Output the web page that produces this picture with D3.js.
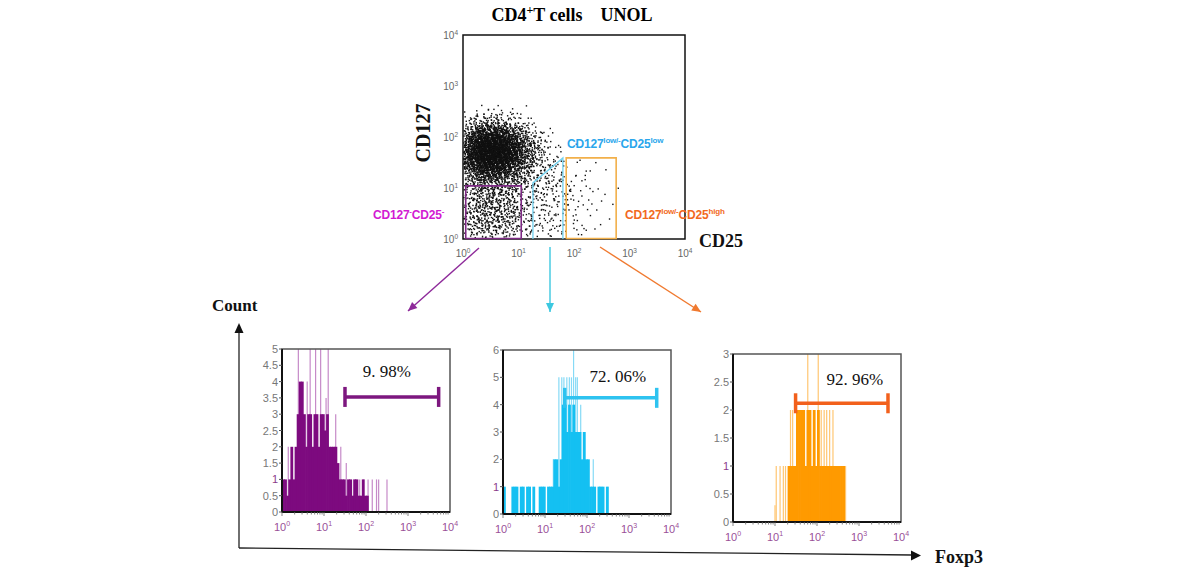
<!DOCTYPE html>
<html><head><meta charset="utf-8">
<script src="https://cdn.jsdelivr.net/npm/d3@7"></script>
<style>body{margin:0;background:#fff}svg{display:block}</style>
</head><body>
<svg id="c" width="1200" height="572"></svg>
<script>
// ---------------- DATA ----------------
const scatterDecades = [0, 1, 2, 3, 4];
// density of CD4+ events: columns = log10(CD25) cell centres, rows = log10(CD127) cell centres
const densityColCentres = [0.1, 0.3, 0.5, 0.7, 0.9, 1.1, 1.3, 1.5, 1.7, 1.9, 2.1, 2.3, 2.5, 2.7, 2.9];
const densityRowCentres = [2.5, 2.3, 2.1, 1.9, 1.7, 1.5, 1.3, 1.1, 0.9, 0.7, 0.5, 0.3, 0.1];
const densityCounts = [
  [2, 4, 5, 4, 3, 1, 0, 0, 0, 0, 0, 0, 0, 0, 0],
  [12, 25, 30, 25, 15, 7, 2, 0, 0, 0, 0, 0, 0, 0, 0],
  [45, 100, 125, 105, 65, 32, 10, 2, 0, 0, 0, 0, 0, 0, 0],
  [95, 210, 250, 215, 140, 65, 24, 7, 2, 0, 0, 0, 0, 0, 0],
  [110, 250, 290, 250, 165, 80, 30, 11, 4, 1, 1, 0, 0, 0, 0],
  [90, 210, 250, 210, 135, 65, 27, 12, 6, 2, 1, 1, 0, 0, 0],
  [45, 95, 115, 95, 65, 38, 18, 12, 8, 3, 2, 1, 1, 0, 0],
  [24, 40, 46, 42, 32, 21, 14, 12, 10, 4, 3, 2, 1, 0, 0],
  [21, 32, 37, 34, 25, 16, 11, 11, 10, 5, 3, 2, 1, 1, 0],
  [21, 32, 37, 34, 25, 15, 10, 10, 9, 5, 3, 2, 1, 1, 0],
  [21, 32, 35, 32, 23, 13, 9, 9, 8, 5, 3, 2, 1, 1, 0],
  [19, 28, 31, 28, 21, 11, 8, 8, 7, 4, 3, 2, 1, 0, 0],
  [12, 17, 18, 16, 12, 7, 5, 5, 4, 3, 2, 1, 1, 0, 0]
];
// gates on the dot plot (CD25, CD127)
const gateNegative = [[1.12, 1.02], [11.2, 1.02], [11.2, 11.0], [1.12, 11.0], [1.12, 1.02]];
const gateLowLow = [[18.2, 1.0], [18.2, 12.6], [63.1, 38.9], [63.1, 1.0]];
const gateLowHigh = [[72.4, 1.02], [575, 1.02], [575, 38.9], [72.4, 38.9], [72.4, 1.02]];

// Foxp3 histograms: counts in bins of 0.05 decade starting at 10^0
const histBinWidthDecades = 0.05;
const purpleCounts = [1, 1, 0.5, 1, 2, 1, 2, 3, 4, 4, 3, 2, 3, 3, 2, 3, 3, 2, 3, 3,
  2.5, 3, 2, 2, 2, 2, 1.5, 1, 1, 1, 0.5, 1, 1, 0.5, 1, 1, 0.5, 0.5, 1, 0.5, 0.5, 0];
const purpleSpikes = [[1.41, 2], [2.45, 5], [3.98, 4], [4.68, 5], [6.31, 5], [8.32, 5], [11.2, 3.5],
  [12.6, 5], [19.0, 3], [25.1, 2], [33.9, 1.5], [50.1, 1], [56.2, 1], [70.8, 1], [89.1, 1], [112, 1],
  [141, 1], [178, 1], [200, 1], [316, 1]];
const cyanCounts = [1, 0, 0, 0, 1, 1, 1, 0, 1, 1, 0, 1, 1, 0, 1, 0, 0, 1, 1, 1,
  0, 1, 1, 1, 2, 2, 1, 2, 4, 4, 3, 4, 3, 4, 3, 3, 3, 2, 3, 2, 2, 1, 1, 1, 0, 1, 1, 1, 0, 1, 0];
const cyanSpikes = [[15.8, 2], [21.4, 5], [25.1, 5], [28.2, 5], [33.1, 5], [38.0, 5], [42.7, 5],
  [47.9, 6], [53.7, 5], [58.9, 5], [70.8, 4], [89.1, 3], [141, 2], [200, 1], [316, 1]];
const orangeCounts = [0, 0, 0, 0, 0, 0, 0, 0, 0, 0, 0, 0, 0, 0, 0, 0, 0, 0, 0, 0,
  0, 0, 0, 0, 0, 0, 1, 1, 1, 1, 2, 2, 2, 2, 1, 2, 2, 1, 2, 1, 2, 1, 1, 1, 1, 1, 1, 1, 1, 1, 1, 1, 1, 0];
const orangeSpikes = [[10.0, 0.3], [10.7, 1], [13.2, 1], [15.8, 1], [17.8, 1], [23.4, 2], [26.3, 2],
  [60.3, 3], [107, 3], [126, 2], [148, 2], [170, 2], [200, 2], [240, 2], [479, 1]];
// positive-marker gates: [lower, upper, level, label]
const purpleMarker = [31.6, 5370, 3.53, "9. 98%"];
const cyanMarker = [29.5, 4570, 4.25, "72. 06%"];
const orangeMarker = [30.9, 4900, 2.12, "92. 96%"];
const purpleYTicks = [0, 0.5, 1, 1.5, 2, 2.5, 3, 3.5, 4, 4.5, 5];
const cyanYTicks = [0, 1, 2, 3, 4, 5, 6];
const orangeYTicks = [0, 0.5, 1, 1.5, 2, 2.5, 3];

// ---------------- DRAW ----------------
const svg = d3.select('#c');
const serif = '"Liberation Serif", "Times New Roman", serif';
const sans = '"Liberation Sans", Arial, sans-serif';

function powLabel(sel, exp, baseSize, supSize) {
  sel.append('tspan').text('10');
  sel.append('tspan').attr('dy', -baseSize * 0.45).style('font-size', supSize + 'px').text(exp);
}

// Title
const title = svg.append('text').attr('x', 572).attr('y', 21).attr('text-anchor', 'middle')
  .style('font-family', serif).style('font-weight', 'bold').style('font-size', '18px');
title.append('tspan').text('CD4');
title.append('tspan').attr('dy', -7).style('font-size', '12px').text('+');
title.append('tspan').attr('dy', 7).text('T cells\u00a0\u00a0\u00a0\u00a0UNOL');

// ---- Dot plot ----
const sx = d3.scaleLog().domain([1, 1e4]).range([463, 685]);
const sy = d3.scaleLog().domain([1, 1e4]).range([239, 35]);

// deterministic low-discrepancy placement of each cell's events (triangular kernel, 2 cells wide)
function halton(i, b) { let f = 1, r = 0; while (i > 0) { f /= b; r += f * (i % b); i = Math.floor(i / b); } return r; }
const frac = v => v - Math.floor(v);
const dots = [];
densityCounts.forEach((row, r) => row.forEach((n, c) => {
  const cell = r * 15 + c;
  const s1 = frac(cell * 0.7548776662), s2 = frac(cell * 0.5698402910), s3 = frac(cell * 0.381966), s4 = frac(cell * 0.2360679);
  const k0 = 1 + cell * 23;
  for (let k = k0; k < k0 + n; k++) {
    const ux = frac(halton(k, 2) + s1) + frac(halton(k, 5) + s3) - 1;
    const uy = frac(halton(k, 3) + s2) + frac(halton(k, 7) + s4) - 1;
    const lx = densityColCentres[c] + ux * 0.2;
    const ly = densityRowCentres[r] + uy * 0.2;
    if (lx < 0.015 || ly < 0.015) continue;
    dots.push([Math.pow(10, lx), Math.pow(10, ly)]);
  }
}));
svg.append('g').selectAll('rect').data(dots).join('rect')
  .attr('x', d => sx(d[0]) - 0.7).attr('y', d => sy(d[1]) - 0.7)
  .attr('width', 1.4).attr('height', 1.4).attr('fill', '#111');

svg.append('rect').attr('x', 463).attr('y', 35).attr('width', 222).attr('height', 204)
  .attr('fill', 'none').attr('stroke', '#111').attr('stroke-width', 1.5);

const line = d3.line().x(d => sx(d[0])).y(d => sy(d[1]));
svg.append('path').attr('d', line(gateNegative)).attr('fill', 'none').attr('stroke', '#7d2a84').attr('stroke-width', 1.6);
svg.append('path').attr('d', line(gateLowLow)).attr('fill', 'none').attr('stroke', '#6fd0ee').attr('stroke-width', 1.3);
svg.append('path').attr('d', line(gateLowHigh)).attr('fill', 'none').attr('stroke', '#f2b04a').attr('stroke-width', 1.6);

// dot plot ticks
scatterDecades.forEach(e => {
  const t = svg.append('text').attr('x', sx(Math.pow(10, e))).attr('y', 257).attr('text-anchor', 'middle')
    .style('font-family', sans).style('font-size', '10px').attr('fill', '#666');
  powLabel(t, e, 10, 6.5);
  const t2 = svg.append('text').attr('x', 458).attr('y', sy(Math.pow(10, e)) + 4).attr('text-anchor', 'end')
    .style('font-family', sans).style('font-size', '10px').attr('fill', '#666');
  powLabel(t2, e, 10, 6.5);
});

// axis labels of dot plot
svg.append('text').attr('transform', 'translate(430,133) rotate(-90)').attr('text-anchor', 'middle')
  .style('font-family', serif).style('font-weight', 'bold').style('font-size', '20px').attr('fill', '#111').text('CD127');
svg.append('text').attr('x', 699).attr('y', 247)
  .style('font-family', serif).style('font-weight', 'bold').style('font-size', '18px').attr('fill', '#111').text('CD25');

// gate labels
function gateLabel(x, y, color, parts) {
  const t = svg.append('text').attr('x', x).attr('y', y).style('font-family', sans).style('font-size', '12px')
    .style('font-weight', 'bold').attr('fill', color).style('letter-spacing', '-0.2px');
  let up = false;
  parts.forEach(([s, sup]) => {
    const sp = t.append('tspan').text(s);
    if (sup && !up) { sp.attr('dy', -5).style('font-size', '8px'); up = true; }
    else if (!sup && up) { sp.attr('dy', 5); up = false; }
  });
}
gateLabel(373, 219, '#d21ad2', [['CD127', 0], ['-', 1], ['CD25', 0], ['-', 1]]);
gateLabel(567, 148, '#2aa6ec', [['CD127', 0], ['low/-', 1], ['CD25', 0], ['low', 1]]);
gateLabel(625, 219, '#f26a1e', [['CD127', 0], ['low/-', 1], ['CD25', 0], ['high', 1]]);

// arrows from gates to histograms
function arrow(x1, y1, x2, y2, color) {
  svg.append('line').attr('x1', x1).attr('y1', y1).attr('x2', x2).attr('y2', y2)
    .attr('stroke', color).attr('stroke-width', 1.4);
  const a = Math.atan2(y2 - y1, x2 - x1), L = 9, W = 4;
  const bx = x2 - L * Math.cos(a), by = y2 - L * Math.sin(a);
  const px = -Math.sin(a) * W, py = Math.cos(a) * W;
  svg.append('path').attr('d', `M${x2},${y2}L${bx + px},${by + py}L${bx - px},${by - py}Z`).attr('fill', color);
}
arrow(479, 248, 408, 311, '#8e2a9a');
arrow(550, 247, 550, 312, '#3cc8e0');
arrow(600, 247, 701, 312, '#f07a30');

// ---- Big Count / Foxp3 axes ----
svg.append('line').attr('x1', 239).attr('y1', 548).attr('x2', 239).attr('y2', 332).attr('stroke', '#222').attr('stroke-width', 1.3);
svg.append('path').attr('d', 'M239,323L234.5,333L243.5,333Z').attr('fill', '#111');
svg.append('line').attr('x1', 239).attr('y1', 548).attr('x2', 912).attr('y2', 555).attr('stroke', '#222').attr('stroke-width', 1.3);
svg.append('path').attr('d', 'M921,555.5L911,550.5L911,560.5Z').attr('fill', '#111');
svg.append('text').attr('x', 212).attr('y', 311).style('font-family', serif).style('font-weight', 'bold')
  .style('font-size', '17px').attr('fill', '#111').text('Count');
svg.append('text').attr('x', 935).attr('y', 563).style('font-family', serif).style('font-weight', 'bold')
  .style('font-size', '18px').attr('fill', '#111').text('Foxp3');

// ---- Histograms ----
function histogram(p) {
  const x = d3.scaleLog().domain([1, 1e4]).range([p.left, p.left + 168]);
  const y = d3.scaleLinear().domain([0, p.ymax]).range([p.bottom, p.top]);
  const g = svg.append('g');
  // lighter single-channel spikes (behind the fill)
  g.selectAll('line.sp').data(p.spikes).join('line').attr('class', 'sp')
    .attr('x1', d => x(d[0])).attr('x2', d => x(d[0])).attr('y1', p.bottom).attr('y2', d => y(d[1]))
    .attr('stroke', p.light).attr('stroke-width', 1.2);
  // dark fill bins
  g.selectAll('rect.bin').data(p.counts).join('rect').attr('class', 'bin')
    .attr('x', (d, i) => x(Math.pow(10, i * histBinWidthDecades)))
    .attr('width', (d, i) => x(Math.pow(10, (i + 1) * histBinWidthDecades)) - x(Math.pow(10, i * histBinWidthDecades)) + 0.7)
    .attr('y', d => y(d)).attr('height', d => p.bottom - y(d)).attr('fill', p.dark);
  // frame
  g.append('rect').attr('x', p.left).attr('y', p.top).attr('width', 168).attr('height', p.bottom - p.top)
    .attr('fill', 'none').attr('stroke', '#555').attr('stroke-width', 1.5);
  g.append('line').attr('x1', p.left).attr('x2', p.left).attr('y1', p.top).attr('y2', p.bottom).attr('stroke', '#111').attr('stroke-width', 2);
  g.append('line').attr('x1', p.left).attr('x2', p.left + 168).attr('y1', p.bottom).attr('y2', p.bottom).attr('stroke', '#111').attr('stroke-width', 2);
  // y ticks
  p.yticks.forEach(v => {
    g.append('line').attr('x1', p.left - 3).attr('x2', p.left).attr('y1', y(v)).attr('y2', y(v)).attr('stroke', '#555');
    g.append('text').attr('x', p.left - 4).attr('y', y(v) + 4).attr('text-anchor', 'end')
      .style('font-family', sans).style('font-size', '11px').attr('fill', v === 1 ? '#8a3a8a' : '#777').text(v);
  });
  // x minor ticks
  for (let e = 0; e < 4; e++) for (let m = 1; m < 10; m++) {
    const v = m * Math.pow(10, e);
    g.append('line').attr('x1', x(v)).attr('x2', x(v)).attr('y1', p.bottom).attr('y2', p.bottom + (m === 1 ? 4 : 2.5)).attr('stroke', '#666').attr('stroke-width', 0.8);
  }
  scatterDecades.forEach(e => {
    const t = g.append('text').attr('x', x(Math.pow(10, e))).attr('y', p.bottom + 19).attr('text-anchor', 'middle')
      .style('font-family', sans).style('font-size', '11px').attr('fill', '#9a4f98');
    powLabel(t, e, 11, 7);
  });
  // marker
  const [lo, hi, lev, lab] = p.marker;
  const my = y(lev);
  g.append('line').attr('x1', x(lo)).attr('x2', x(hi)).attr('y1', my).attr('y2', my).attr('stroke', p.markerColor).attr('stroke-width', 3.5);
  [lo, hi].forEach(v => g.append('line').attr('x1', x(v)).attr('x2', x(v)).attr('y1', my - 10).attr('y2', my + 10)
    .attr('stroke', p.markerColor).attr('stroke-width', 3.5));
  g.append('text').attr('x', (x(lo) + x(hi)) / 2 + p.labelDx).attr('y', my + p.labelDy).attr('text-anchor', 'middle')
    .style('font-family', serif).style('font-size', '17px').attr('fill', '#111').text(lab);
}

histogram({ left: 282, top: 349, bottom: 512, ymax: 5, counts: purpleCounts, spikes: purpleSpikes,
  dark: '#7d0a7f', light: '#c68ac8', yticks: purpleYTicks, marker: purpleMarker, markerColor: '#7d177f', labelDx: -5, labelDy: -20 });
histogram({ left: 503, top: 350, bottom: 514, ymax: 6, counts: cyanCounts, spikes: cyanSpikes,
  dark: '#14c0f2', light: '#86daf6', yticks: cyanYTicks, marker: cyanMarker, markerColor: '#2ec3f0', labelDx: 7, labelDy: -16 });
histogram({ left: 733, top: 354, bottom: 522, ymax: 3, counts: orangeCounts, spikes: orangeSpikes,
  dark: '#ff9a00', light: '#ffc672', yticks: orangeYTicks, marker: orangeMarker, markerColor: '#f2601c', labelDx: 13, labelDy: -18 });
</script>
</body></html>
